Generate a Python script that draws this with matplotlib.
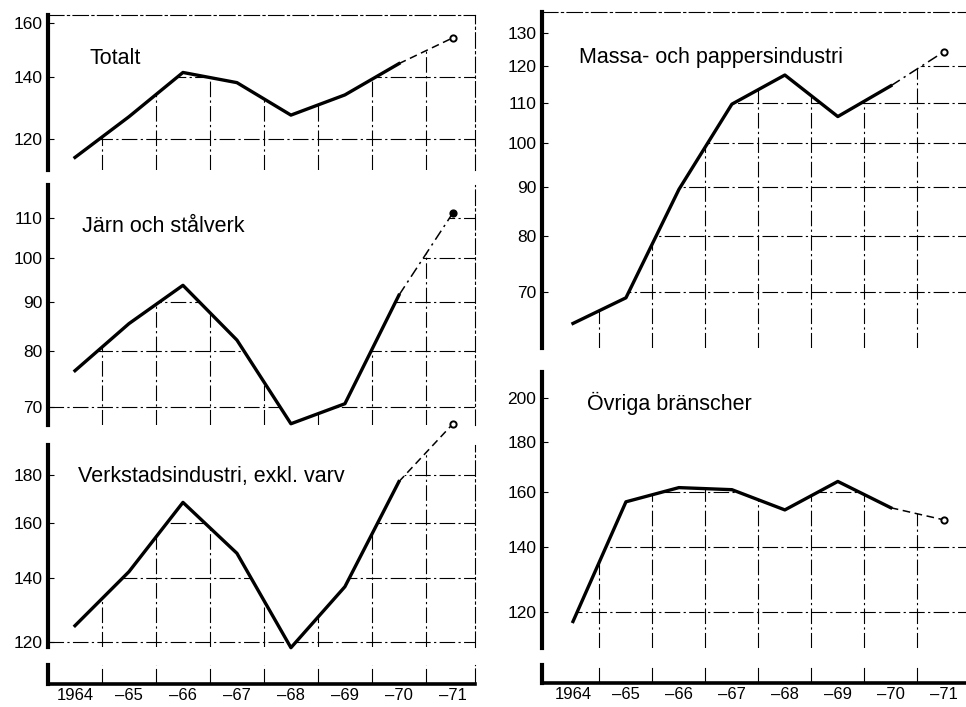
import numpy as np
import matplotlib
matplotlib.use("Agg")
import matplotlib.pyplot as plt
from matplotlib.ticker import NullLocator
from matplotlib.patches import Polygon

plt.rcParams['font.family'] = ['Liberation Sans', 'DejaVu Sans']

years = [1964, 1965, 1966, 1967, 1968, 1969, 1970, 1971]
year_labels = ['1964', '\u201365', '\u201366', '\u201367', '\u201368', '\u201369', '\u201370', '\u201371']

totalt = [114.8, 126.9, 141.5, 138.0, 127.4, 133.9, 144.6, 154.1]
jarn = [76.3, 85.4, 93.6, 82.1, 67.2, 70.5, 91.4, 111.3]
verkstad = [124.8, 142.3, 168.4, 148.8, 118.3, 137.2, 177.1, 203.8]
massa = [64.9, 69.0, 89.4, 109.6, 117.5, 106.4, 114.5, 124.2]
ovriga = [117.2, 156.1, 161.5, 160.7, 153.1, 163.9, 153.9, 149.5]

totalt_ticks = [120, 140, 160]
jarn_ticks = [70, 80, 90, 100, 110]
verkstad_ticks = [120, 140, 160, 180]
massa_ticks = [70, 80, 90, 100, 110, 120, 130]
ovriga_ticks = [120, 140, 160, 180, 200]

W, H = 966, 707
fig = plt.figure(figsize=(W / 100, H / 100), dpi=100)

DASHDOT = (0, (14, 3, 2, 3))
GRID = dict(color='black', lw=0.8, ls=DASHDOT)


def px_rect(l, t, r, b):
    return [l / W, 1 - b / H, (r - l) / W, (b - t) / H]


def panel(rect, xlim, ylim, ticks, vals, title, tpos, top=False, right=True,
          fc_style=(0, (5, 3)), filled=False):
    ax = fig.add_axes(px_rect(*rect))
    ax.set_yscale('log')
    ax.set_xlim(*xlim)
    ax.set_ylim(*ylim)
    ax.set_yticks(ticks)
    ax.set_yticklabels([str(t) for t in ticks])
    ax.yaxis.set_minor_locator(NullLocator())
    ax.set_xticks([])
    ax.tick_params(axis='y', direction='in', length=4, width=0.8,
                   labelsize=12.5, pad=4)

    # grid only in the area under the curve
    px = [xlim[0]] + years + [xlim[1], xlim[1], xlim[0]]
    py = [vals[0]] + vals + [vals[-1], ylim[0], ylim[0]]
    under = Polygon(np.column_stack([px, py]), closed=True,
                    transform=ax.transData, fill=False, lw=0)
    ax.add_patch(under)
    grid = [ax.axhline(t, **GRID, zorder=1) for t in ticks]
    grid += [ax.axvline(x, **GRID, zorder=1) for x in np.arange(1964.5, 1971, 1.0)]
    for g in grid:
        g.set_clip_path(under)

    ax.spines['left'].set_linewidth(3)
    ax.spines['bottom'].set_visible(False)
    if top:
        ax.spines['top'].set_linewidth(0.8)
        ax.spines['top'].set_linestyle(DASHDOT)
    else:
        ax.spines['top'].set_visible(False)
    if right:
        ax.spines['right'].set_linewidth(0.8)
        ax.spines['right'].set_linestyle(DASHDOT)
    else:
        ax.spines['right'].set_visible(False)
    ax.patch.set_alpha(0)
    ax.plot(years[:7], vals[:7], color='black', lw=2.4, zorder=3, clip_on=False)
    ax.plot(years[6:], vals[6:], color='black', lw=1.1, ls=fc_style,
            zorder=3, clip_on=False)
    ax.plot(years[7], vals[7], 'o', ms=4.5, mew=1.4, mec='black',
            mfc='black' if filled else 'white', zorder=4, clip_on=False)
    fig.text(tpos[0] / W, 1 - tpos[1] / H, title, fontsize=15.5,
             ha='left', va='baseline')
    return ax


def strip(rect, xlim, right=True):
    ax = fig.add_axes(px_rect(*rect))
    ax.set_xlim(*xlim)
    ax.set_ylim(0, 1)
    ax.set_yticks([])
    ax.set_xticks(years)
    ax.set_xticklabels(year_labels)
    ax.tick_params(axis='x', length=0, labelsize=12, pad=3)
    for x in np.arange(1964.5, 1971, 1.0):
        ax.axvline(x, **GRID)
    ax.spines['left'].set_linewidth(3)
    ax.spines['bottom'].set_linewidth(2.6)
    ax.spines['top'].set_visible(False)
    if right:
        ax.spines['right'].set_linewidth(0.8)
        ax.spines['right'].set_linestyle(DASHDOT)
    else:
        ax.spines['right'].set_visible(False)
    return ax


left_x = (1963.5, 1971.41)
right_x = (1963.415, 1971.42)

panel((48, 15, 475, 170), left_x, (111.3, 163), totalt_ticks, totalt,
      'Totalt', (90, 64), top=True)
panel((48, 185, 475, 425), left_x, (67, 119), jarn_ticks, jarn,
      'J\u00e4rn och st\u00e5lverk', (82, 232), fc_style=(0, (7, 3, 1.5, 3)),
      filled=True)
panel((48, 445, 475, 647), left_x, (118.5, 193.6), verkstad_ticks, verkstad,
      'Verkstadsindustri, exkl. varv', (78, 482))
strip((48, 665, 475, 684), left_x)

panel((542, 12, 966, 348), right_x, (61.2, 136.6), massa_ticks, massa,
      'Massa- och pappersindustri', (579, 63), top=True, right=False,
      fc_style=(0, (7, 3, 1.5, 3)))
panel((542, 372, 966, 648), right_x, (110, 213), ovriga_ticks, ovriga,
      '\u00d6vriga br\u00e4nscher', (587, 410), right=False)
strip((542, 665, 966, 683), right_x, right=False)

fig.savefig('out.png', dpi=100)
